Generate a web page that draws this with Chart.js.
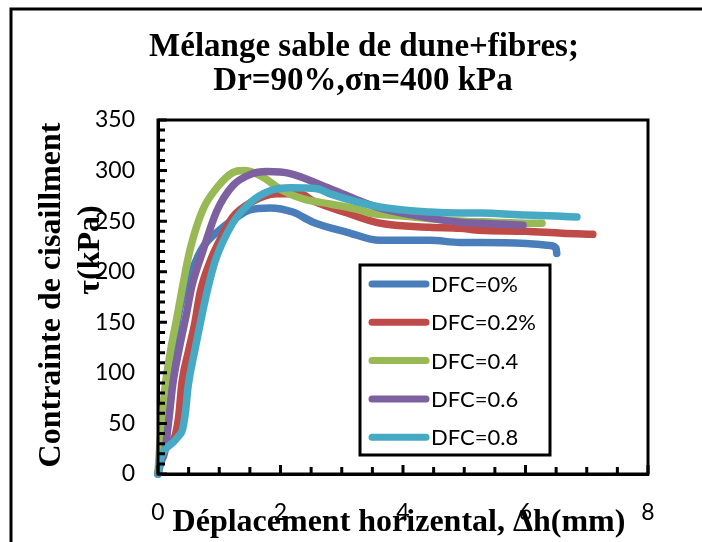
<!DOCTYPE html>
<html>
<head>
<meta charset="utf-8">
<script src="https://cdn.jsdelivr.net/npm/chart.js@4/dist/chart.umd.min.js"></script>
<style>
  html, body { margin: 0; padding: 0; background: #fff; }
  #wrap { width: 702px; height: 542px; }
</style>
</head>
<body>
<div id="wrap"><canvas id="shearChart" width="702" height="542"></canvas></div>
<script>
// Déplacement horizontal (mm) / contrainte de cisaillement (kPa)
const dfc0X = [0, 0.05, 0.12, 0.2, 0.3, 0.4, 0.52, 0.6, 0.73, 1.0, 1.29, 1.5, 1.83, 2.2, 2.53, 3.09, 3.62, 4.44, 4.93, 5.26, 6.02, 6.4, 6.5, 6.51];
const dfc0Y = [0, 25, 60, 100, 145, 175, 194, 208, 224, 241, 254, 261, 263, 259, 249, 239, 231, 231, 229, 229, 228, 226, 223, 218];

const dfc02X = [0, 0.05, 0.15, 0.28, 0.34, 0.39, 0.5, 0.6, 0.69, 0.85, 1.0, 1.22, 1.5, 1.94, 2.32, 2.53, 3.09, 3.62, 4.44, 4.93, 5.26, 6.0, 6.6, 7.1];
const dfc02Y = [0, 18, 28, 38, 58, 90, 122, 149, 180, 210, 230, 254, 268, 277, 277, 270, 258, 248, 244, 243, 241, 240, 238, 237];

const dfc04X = [0, 0.02, 0.11, 0.2, 0.31, 0.4, 0.52, 0.73, 0.96, 1.22, 1.4, 1.67, 2.04, 2.37, 2.81, 3.3, 3.46, 4.0, 4.5, 5.0, 5.5, 6.0, 6.27];
const dfc04Y = [0, 20, 83, 120, 155, 185, 221, 261, 283, 298, 300, 295, 280, 272, 267, 261, 258, 255, 252, 250, 249, 248, 248];

const dfc06X = [0, 0.05, 0.11, 0.18, 0.24, 0.35, 0.47, 0.55, 0.73, 0.96, 1.22, 1.5, 1.78, 2.16, 2.69, 3.09, 3.62, 4.44, 4.93, 5.26, 5.96];
const dfc06Y = [0, 12, 22, 55, 88, 125, 160, 185, 220, 260, 285, 296, 299, 297, 285, 275, 263, 253, 249, 248, 246];

const dfc08X = [0, 0.03, 0.08, 0.24, 0.33, 0.4, 0.45, 0.49, 0.6, 0.7, 0.8, 0.93, 1.22, 1.5, 1.83, 2.16, 2.6, 2.81, 3.62, 4.44, 4.93, 5.26, 6.0, 6.5, 6.84];
const dfc08Y = [0, 12, 21, 31, 37, 44, 62, 86, 122, 152, 180, 210, 248, 268, 280, 283, 282, 277, 264, 259, 258, 258, 256, 255, 254];

const seriesLabels = ["DFC=0%", "DFC=0.2%", "DFC=0.4", "DFC=0.6", "DFC=0.8"];
const seriesColors = ["#4a7ebb", "#be4b48", "#98b954", "#7d60a0", "#46aac5"];
const xTicks = [0, 2, 4, 6, 8];
const yTicks = [0, 50, 100, 150, 200, 250, 300, 350];

function toPoints(xs, ys) {
    return xs.map((x, i) => ({ x: x, y: ys[i] }));
}

const allX = [dfc0X, dfc02X, dfc04X, dfc06X, dfc08X];
const allY = [dfc0Y, dfc02Y, dfc04Y, dfc06Y, dfc08Y];

const datasets = seriesLabels.map((label, i) => ({
    label: label,
    data: toPoints(allX[i], allY[i]),
    borderColor: seriesColors[i],
    backgroundColor: seriesColors[i],
    borderWidth: 7.5,
    borderCapStyle: 'round',
    borderJoinStyle: 'round',
    pointRadius: 0,
    showLine: true,
    cubicInterpolationMode: 'monotone',
    clip: 8,
    order: seriesLabels.length - i
}));

// cadre, titres, graduations internes et légende dans la zone du graphe
const decorations = {
    id: 'decorations',
    beforeDraw(chart) {
        const ctx = chart.ctx;
        ctx.save();
        ctx.fillStyle = '#fff';
        ctx.fillRect(0, 0, chart.width, chart.height);
        ctx.strokeStyle = '#000';
        ctx.lineWidth = 3;
        ctx.beginPath();
        ctx.moveTo(11, chart.height + 5);
        ctx.lineTo(11, 9);
        ctx.lineTo(chart.width + 5, 9);
        ctx.stroke();
        ctx.restore();
    },
    afterDraw(chart) {
        const ctx = chart.ctx;
        const area = chart.chartArea;
        const xs = chart.scales.x;
        const ys = chart.scales.y;
        ctx.save();

        // ticks vers l'intérieur
        ctx.strokeStyle = '#000';
        ctx.lineWidth = 3;
        ctx.beginPath();
        for (let v = 0; v <= 350; v += 10) {
            const py = ys.getPixelForValue(v);
            const len = v % 50 === 0 ? 9 : 7;
            ctx.moveTo(area.left, py);
            ctx.lineTo(area.left + len, py);
        }
        for (let v = 0; v <= 8; v += 0.5) {
            const px = xs.getPixelForValue(v);
            const len = v % 2 === 0 ? 9 : 7;
            ctx.moveTo(px, area.bottom);
            ctx.lineTo(px, area.bottom - len);
        }
        ctx.stroke();
        ctx.lineWidth = 3;
        ctx.strokeRect(area.left, area.top, area.right - area.left, area.bottom - area.top);

        // titre
        ctx.fillStyle = '#000';
        ctx.textAlign = 'center';
        ctx.textBaseline = 'middle';
        ctx.font = 'bold 33px "Liberation Serif"';
        ctx.fillText('Mélange sable de dune+fibres;', 364, 47);
        ctx.fillText('Dr=90%,σn=400 kPa', 363, 81);

        // titre axe x
        ctx.font = 'bold 32px "Liberation Serif"';
        ctx.fillText('Déplacement horizental, Δh(mm)', 399, 523);

        // titre axe y
        ctx.save();
        ctx.translate(52, 295);
        ctx.rotate(-Math.PI / 2);
        ctx.fillText('Contrainte de cisaillment', 0, 0);
        ctx.restore();
        ctx.save();
        ctx.translate(91, 250);
        ctx.rotate(-Math.PI / 2);
        ctx.fillText('τ(kPa)', 0, 0);
        ctx.restore();

        // légende
        const lx = 360, ly = 265, lw = 190, lh = 190;
        ctx.fillStyle = '#fff';
        ctx.fillRect(lx, ly, lw, lh);
        ctx.lineWidth = 3;
        ctx.strokeRect(lx, ly, lw, lh);
        ctx.font = '22px Lato';
        ctx.textAlign = 'left';
        chart.data.datasets.forEach((ds, i) => {
            const y = 284 + i * 38.3;
            ctx.strokeStyle = ds.borderColor;
            ctx.lineWidth = 7;
            ctx.lineCap = 'round';
            ctx.beginPath();
            ctx.moveTo(372, y);
            ctx.lineTo(426, y);
            ctx.stroke();
            ctx.fillStyle = '#000';
            ctx.fillText(ds.label, 431, y + 1);
        });
        ctx.restore();
    }
};

new Chart(document.getElementById('shearChart'), {
    type: 'scatter',
    data: { datasets: datasets },
    options: {
        responsive: false,
        animation: false,
        layout: { padding: { left: 0, top: 120, right: 54, bottom: 0 } },
        plugins: {
            legend: { display: false },
            title: { display: false },
            tooltip: { enabled: false }
        },
        scales: {
            x: {
                type: 'linear',
                min: 0,
                max: 8,
                afterFit(scale) { scale.height = 68; },
                afterBuildTicks(scale) { scale.ticks = xTicks.map(v => ({ value: v })); },
                grid: { display: false, drawTicks: false },
                border: { display: true, color: '#000', width: 3 },
                ticks: { color: '#000', padding: 25, font: { family: 'Lato', size: 23 }, autoSkip: false, maxRotation: 0 }
            },
            y: {
                type: 'linear',
                min: 0,
                max: 350,
                afterFit(scale) { scale.width = 158; },
                afterBuildTicks(scale) { scale.ticks = yTicks.map(v => ({ value: v })); },
                grid: { display: false, drawTicks: false },
                border: { display: true, color: '#000', width: 3 },
                ticks: { color: '#000', padding: 23, font: { family: 'Lato', size: 23 }, autoSkip: false }
            }
        }
    },
    plugins: [decorations]
});
</script>
</body>
</html>
